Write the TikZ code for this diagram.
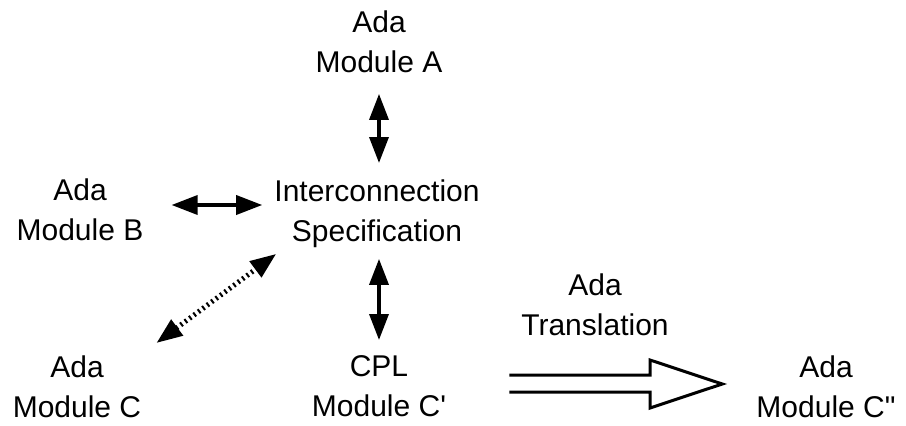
\documentclass[tikz,border=0pt]{standalone}
\usepackage{fontspec}
\setmainfont{Liberation Sans}
\usetikzlibrary{arrows.meta,calc}
\begin{document}
\begin{tikzpicture}[x=1pt,y=-1pt,
  lbl/.style={inner sep=0pt, align=center, anchor=north,
    font=\fontsize{30pt}{40pt}\selectfont},
  biarrow/.style={line width=3.5pt, {Triangle[length=26pt,width=19pt]}-{Triangle[length=26pt,width=19pt]}},
  dotarrow/.style={biarrow, line width=5pt, dash pattern=on 2pt off 3.5pt},
  hollow/.style={line width=3pt, line join=miter}]
\useasboundingbox (0,0) rectangle (906,426);
% nodes (anchor north = top of first line, about baseline - 21.5)
\node[lbl] (A)   at (379,10.5)  {Ada\\Module A};
\node[lbl] (B)   at (80,178.5)  {Ada\\Module B};
\node[lbl] (I)   at (377,179.5) {Interconnection\\Specification};
\node[lbl] (C)   at (77,355.5)  {Ada\\Module C};
\node[lbl] (Cp)  at (379,355.5) {CPL\\Module C\textquotesingle};
\node[lbl] (T)   at (595,273.5) {Ada\\Translation};
\node[lbl] (Cpp) at (826,355.5) {Ada\\Module C\textquotedbl};
% helper coordinates
\coordinate (yb) at (0,205);
\coordinate (b0) at ($(B.east)+(28,0)$);
\coordinate (b1) at ($(I.west)+(-12,0)$);
\coordinate (d0) at ($(C.north east)+(15,-12.5)$);
\coordinate (d1) at ($(I.south west)+(2,6)$);
\coordinate (s0) at ($(Cp.east)+(63,0)$);
\coordinate (t0) at ($(Cpp.west)+(-34,0)$);
\coordinate (ys) at (0,375);
\coordinate (yt) at (0,384);
\coordinate (yu) at (0,392);
% connectors
\draw[biarrow, shorten <=21pt, shorten >=16.5pt] (A.south) -- (A.south |- I.north);
\draw[biarrow] (b0 |- yb) -- (b1 |- yb);
\draw[biarrow, shorten <=11pt, shorten >=15.5pt] (I.south -| Cp) -- (Cp.north);
\draw[dotarrow] (d0) -- (d1);
% hollow double arrow from C' to C''
\draw[hollow] (s0 |- ys) -- (650,375) -- (650,360) -- (t0 |- yt)
  -- (650,408) -- (650,392) -- (s0 |- yu);
\end{tikzpicture}
\end{document}
